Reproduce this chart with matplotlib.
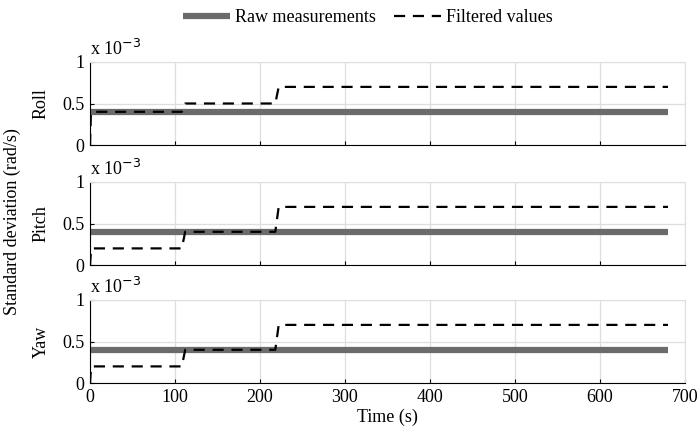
import matplotlib
matplotlib.use("Agg")
import matplotlib.pyplot as plt

plt.rcParams['font.family'] = ['Liberation Serif', 'DejaVu Serif']
plt.rcParams['font.size'] = 13

# tiempo (s) y valores (x 1e-3)
t_raw = [0, 680]
raw_val = [0.4, 0.4]

t_filt = [0, 1, 2, 108, 112, 218, 222, 680]
roll = [0.0, 0.35, 0.4, 0.4, 0.5, 0.5, 0.7, 0.7]
pitch = [0.0, 0.15, 0.2, 0.2, 0.4, 0.4, 0.7, 0.7]
yaw = [0.0, 0.15, 0.2, 0.2, 0.4, 0.4, 0.7, 0.7]

nombres = ["Roll", "Pitch", "Yaw"]
series = [roll, pitch, yaw]

fig = plt.figure(figsize=(7, 4.28), dpi=100)
izq, ancho = 90 / 700, 595 / 700
tops = [62, 182, 300]
alto = 83

axs = []
for i, (nombre, vals) in enumerate(zip(nombres, series)):
    ax = fig.add_axes([izq, 1 - (tops[i] + alto) / 428, ancho, alto / 428])
    l1, = ax.plot(t_raw, raw_val, color="#6b6b6b", lw=4.5, solid_capstyle="butt",
                  label="Raw measurements")
    l2, = ax.plot(t_filt, vals, color="black", lw=1.6, dashes=(5, 3.5),
                  label="Filtered values")
    ax.set_xlim(0, 700)
    ax.set_ylim(0, 1)
    ax.set_yticks([0, 0.5, 1])
    ax.set_yticklabels(["0", "0.5", "1"])
    ax.set_xticks(range(0, 701, 100))
    if i < 2:
        ax.set_xticklabels([])
    ax.grid(True, color="#dedede", lw=0.9)
    ax.set_axisbelow(True)
    ax.spines['top'].set_color("#dedede")
    ax.spines['right'].set_color("#dedede")
    ax.tick_params(direction="in", length=3, top=False, right=False, pad=4)
    ax.set_ylabel(nombre, labelpad=9)
    ax.text(0, 1.04, r"x 10$^{-3}$", transform=ax.transAxes, fontsize=13,
            ha="left", va="bottom")
    axs.append(ax)

axs[2].set_xlabel("Time (s)", labelpad=2)
fig.text(12 / 700, 1 - 222 / 428, "Standard deviation (rad/s)", rotation=90,
         ha="center", va="center", fontsize=13)

fig.legend(handles=[l1, l2], loc="center", bbox_to_anchor=(368 / 700, 1 - 18 / 428),
           ncol=2, frameon=False, handlelength=2.6, columnspacing=1.0, handletextpad=0.3)

fig.savefig("out.png", dpi=100)
